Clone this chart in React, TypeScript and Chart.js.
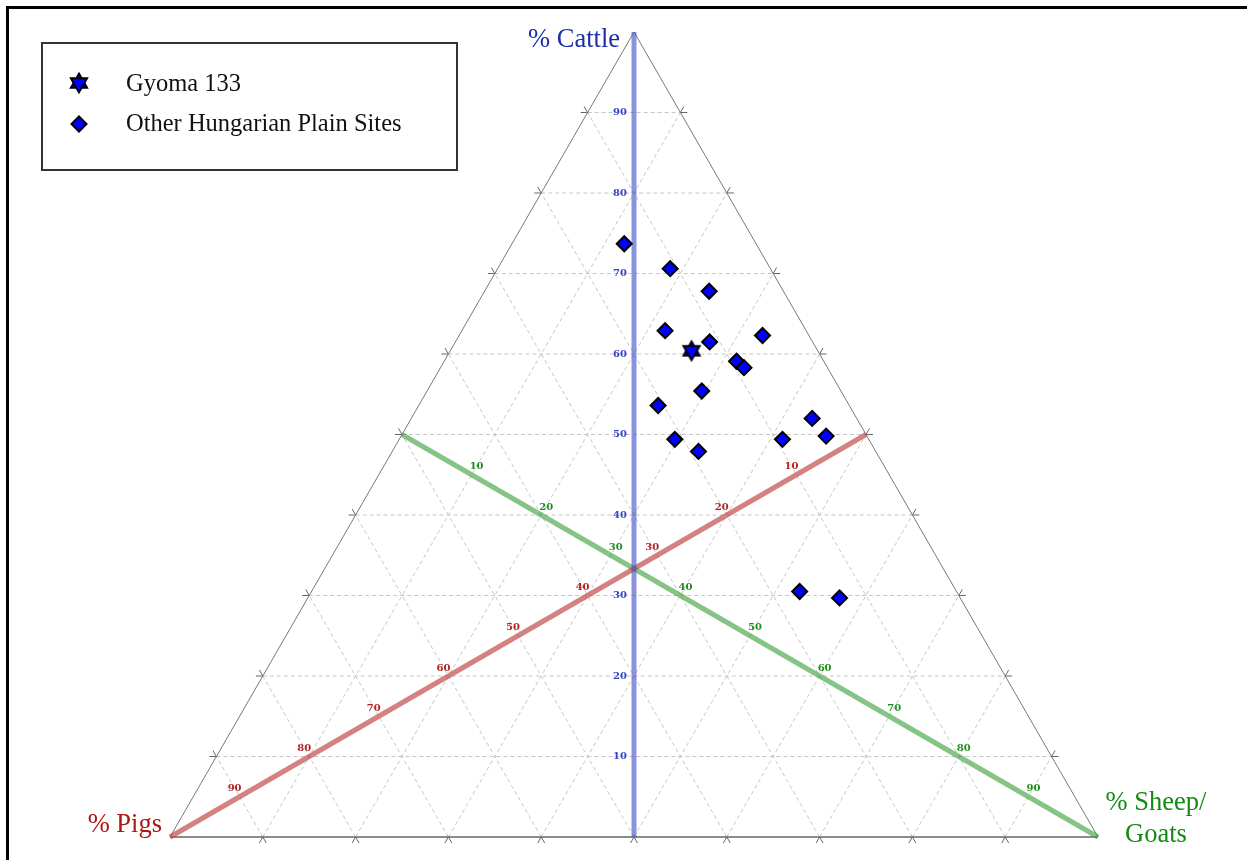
import React, { useEffect, useRef } from "react";
import { Chart, registerables } from "chart.js";

Chart.register(...registerables);

// ---- Data (percentages) ----
const SITE_CATTLE = [73.7, 70.6, 67.8, 62.9, 61.5, 62.3, 59.1, 58.3, 55.4, 53.6, 49.4, 47.9, 49.4, 52.0, 49.8, 30.5, 29.7];
const SITE_SHEEP = [12.1, 18.6, 24.2, 21.9, 27.4, 32.7, 31.5, 32.7, 29.6, 25.8, 29.7, 33.0, 41.3, 43.2, 45.8, 52.6, 57.3];
const SITE_PIGS = [14.2, 10.8, 8.0, 15.2, 11.1, 5.0, 9.4, 9.0, 15.0, 20.6, 20.9, 19.1, 9.3, 4.8, 4.4, 16.9, 13.0];

const GYOMA_CATTLE = [60.4];
const GYOMA_SHEEP = [26.0];
const GYOMA_PIGS = [13.6];

const GRID_VALUES = [10, 20, 30, 40, 50, 60, 70, 80, 90];
const AXIS_LABELS = ["10", "20", "30", "40", "50", "60", "70", "80", "90"];

const SERIES_NAMES = ["Gyoma 133", "Other Hungarian Plain Sites"];

// ---- Layout constants ----
const CANVAS_W = 1238;
const CANVAS_H = 851;
const FRAME_POS = 6;
const FRAME_BORDER = 3;
const OFFSET = FRAME_POS + FRAME_BORDER;
const PX_X = 9.28;
const PX_Y = 9.2953;
const BASE_LEFT_PX = 170;
const BASE_Y_PX = 837;
const X_MIN = -(BASE_LEFT_PX - OFFSET) / PX_X;
const X_MAX = X_MIN + CANVAS_W / PX_X;
const Y_MAX = (BASE_Y_PX - OFFSET) / PX_Y;
const Y_MIN = Y_MAX - CANVAS_H / PX_Y;

const H = Math.sqrt(3) / 2;
// ternary (cattle, sheep, pigs) -> cartesian
function toXY(cattle: number, sheep: number, pigs: number) {
  const tot = cattle + sheep + pigs;
  const c = (cattle / tot) * 100;
  const s = (sheep / tot) * 100;
  return { x: s + c / 2, y: c * H };
}

function extend(a: { x: number; y: number }, b: { x: number; y: number }, len: number) {
  const dx = a.x - b.x;
  const dy = a.y - b.y;
  const d = Math.hypot(dx, dy);
  return { x: a.x + (dx / d) * len, y: a.y + (dy / d) * len };
}

const STAR_SIZE = 26;
function makeStar(): HTMLCanvasElement {
  const cv = document.createElement("canvas");
  cv.width = STAR_SIZE;
  cv.height = STAR_SIZE;
  const g = cv.getContext("2d")!;
  const R = 9.5;
  const cx = STAR_SIZE / 2;
  const cy = STAR_SIZE / 2;
  const tri = (start: number) => {
    g.beginPath();
    for (let i = 0; i < 3; i++) {
      const a = ((start + i * 120) * Math.PI) / 180;
      const px = cx + R * Math.cos(a);
      const py = cy + R * Math.sin(a);
      if (i === 0) g.moveTo(px, py);
      else g.lineTo(px, py);
    }
    g.closePath();
    g.fillStyle = "#0000ff";
    g.fill();
    g.lineWidth = 1.8;
    g.lineJoin = "miter";
    g.strokeStyle = "#000";
    g.stroke();
  };
  tri(-90);
  tri(90);
  return cv;
}

export default function App() {
  const ref = useRef<HTMLCanvasElement | null>(null);

  useEffect(() => {
    if (!ref.current) return;
    const star = makeStar();

    const lineDs = (pts: { x: number; y: number }[], color: string, width: number, dash: number[] = [], order = 10) => ({
      type: "scatter" as const,
      data: pts,
      showLine: true,
      borderColor: color,
      borderWidth: width,
      borderDash: dash,
      pointRadius: 0,
      pointHoverRadius: 0,
      fill: false,
      order,
      clip: false as any,
    });

    const datasets: any[] = [];

    // grid lines and ticks
    const TICK = 0.75;
    GRID_VALUES.forEach((v) => {
      const c1 = toXY(v, 0, 100 - v);
      const c2 = toXY(v, 100 - v, 0);
      const s1 = toXY(0, v, 100 - v);
      const s2 = toXY(100 - v, v, 0);
      const p1 = toXY(0, 100 - v, v);
      const p2 = toXY(100 - v, 0, v);
      [[c1, c2], [s1, s2], [p1, p2]].forEach(([a, b]) => {
        datasets.push(lineDs([a, b], "#c6c6c6", 1, [4, 3], 20));
        datasets.push(lineDs([extend(a, b, TICK), a], "#666666", 1, [], 15));
        datasets.push(lineDs([extend(b, a, TICK), b], "#666666", 1, [], 15));
      });
    });

    // triangle outline
    datasets.push(lineDs([toXY(0, 0, 100), toXY(100, 0, 0), toXY(0, 100, 0)], "#777777", 1, [], 12));
    datasets.push(lineDs([toXY(0, 0, 100), toXY(0, 100, 0)], "#666666", 1.5, [], 12));

    // medians
    datasets.push(lineDs([toXY(100, 0, 0), toXY(0, 50, 50)], "rgba(70,80,200,0.62)", 5, [], 8));
    datasets.push(lineDs([toXY(0, 0, 100), toXY(50, 50, 0)], "rgba(190,70,70,0.68)", 5, [], 8));
    datasets.push(lineDs([toXY(0, 100, 0), toXY(50, 0, 50)], "rgba(60,160,60,0.62)", 5, [], 8));

    // points
    datasets.push({
      type: "scatter",
      label: SERIES_NAMES[1],
      data: SITE_CATTLE.map((c, i) => toXY(c, SITE_SHEEP[i], SITE_PIGS[i])),
      pointStyle: "rectRot",
      pointRadius: 7.5,
      pointBackgroundColor: "#0000ff",
      pointBorderColor: "#000",
      pointBorderWidth: 2,
      order: 2,
      clip: false,
    });
    datasets.push({
      type: "scatter",
      label: SERIES_NAMES[0],
      data: GYOMA_CATTLE.map((c, i) => toXY(c, GYOMA_SHEEP[i], GYOMA_PIGS[i])),
      pointStyle: star,
      pointRadius: 9,
      order: 1,
      clip: false,
    });

    const labelsPlugin = {
      id: "ternaryLabels",
      afterDatasetsDraw(chart: any) {
        const { ctx, scales } = chart;
        const xs = scales.x;
        const ys = scales.y;
        const P = (c: number, s: number, p: number) => {
          const q = toXY(c, s, p);
          return [xs.getPixelForValue(q.x), ys.getPixelForValue(q.y)];
        };
        ctx.save();
        ctx.font = "bold 10px 'DejaVu Serif'";
        GRID_VALUES.forEach((v, i) => {
          const t = AXIS_LABELS[i];
          let [px, py] = P(v, (100 - v) / 2, (100 - v) / 2);
          ctx.fillStyle = "#3444c4";
          ctx.textAlign = "right";
          ctx.textBaseline = "middle";
          ctx.fillText(t, px - 7, py);
          [px, py] = P((100 - v) / 2, (100 - v) / 2, v);
          ctx.fillStyle = "#b52222";
          ctx.textAlign = "center";
          ctx.fillText(t, px - 5, py - 8);
          [px, py] = P((100 - v) / 2, v, (100 - v) / 2);
          ctx.fillStyle = "#1f8f1f";
          ctx.fillText(t, px + 5, py - 8);
        });

        // corner titles
        const [tx, ty] = P(100, 0, 0);
        ctx.font = "26.5px 'Liberation Serif'";
        ctx.textBaseline = "middle";
        ctx.textAlign = "right";
        ctx.fillStyle = "#1c2fa8";
        ctx.fillText("% Cattle", tx - 14, ty + 8);
        const [lx, ly] = P(0, 0, 100);
        ctx.fillStyle = "#b01515";
        ctx.fillText("% Pigs", lx - 8, ly - 12);
        const [rx, ry] = P(0, 100, 0);
        ctx.fillStyle = "#138a13";
        ctx.textAlign = "center";
        ctx.fillText("% Sheep/", rx + 58, ry - 34);
        ctx.fillText("Goats", rx + 58, ry - 2);

        // legend
        const bx = 42 - OFFSET;
        const by = 43 - OFFSET;
        ctx.fillStyle = "#fff";
        ctx.fillRect(bx, by, 415, 127);
        ctx.lineWidth = 2;
        ctx.strokeStyle = "#333";
        ctx.strokeRect(bx, by, 415, 127);
        ctx.drawImage(star, 79 - OFFSET - STAR_SIZE / 2, 83 - OFFSET - STAR_SIZE / 2);
        const dx = 79 - OFFSET;
        const dy = 124 - OFFSET;
        ctx.beginPath();
        ctx.moveTo(dx, dy - 7.5);
        ctx.lineTo(dx + 7.5, dy);
        ctx.lineTo(dx, dy + 7.5);
        ctx.lineTo(dx - 7.5, dy);
        ctx.closePath();
        ctx.fillStyle = "#0000ff";
        ctx.fill();
        ctx.lineWidth = 2;
        ctx.strokeStyle = "#000";
        ctx.stroke();
        ctx.font = "24.5px 'Liberation Serif'";
        ctx.fillStyle = "#111";
        ctx.textAlign = "left";
        ctx.textBaseline = "middle";
        ctx.fillText(SERIES_NAMES[0], 126 - OFFSET, 85 - OFFSET);
        ctx.fillText(SERIES_NAMES[1], 126 - OFFSET, 125 - OFFSET);
        ctx.restore();
      },
    };

    const chart = new Chart(ref.current, {
      type: "scatter",
      data: { datasets },
      options: {
        responsive: false,
        devicePixelRatio: 1,
        animation: false,
        events: [],
        layout: { padding: 0, autoPadding: false },
        scales: {
          x: { type: "linear", min: X_MIN, max: X_MAX, display: false },
          y: { type: "linear", min: Y_MIN, max: Y_MAX, display: false },
        },
        plugins: {
          legend: { display: false },
          tooltip: { enabled: false },
        },
      },
      plugins: [labelsPlugin],
    });
    return () => chart.destroy();
  }, []);

  return (
    <div
      style={{
        position: "absolute",
        left: FRAME_POS,
        top: FRAME_POS,
        width: CANVAS_W + FRAME_BORDER,
        height: CANVAS_H + FRAME_BORDER,
        borderTop: `${FRAME_BORDER}px solid #000`,
        borderLeft: `${FRAME_BORDER}px solid #000`,
        boxSizing: "border-box",
        background: "#fff",
        overflow: "hidden",
      }}
    >
      <canvas ref={ref} width={CANVAS_W} height={CANVAS_H} style={{ display: "block" }} />
    </div>
  );
}
